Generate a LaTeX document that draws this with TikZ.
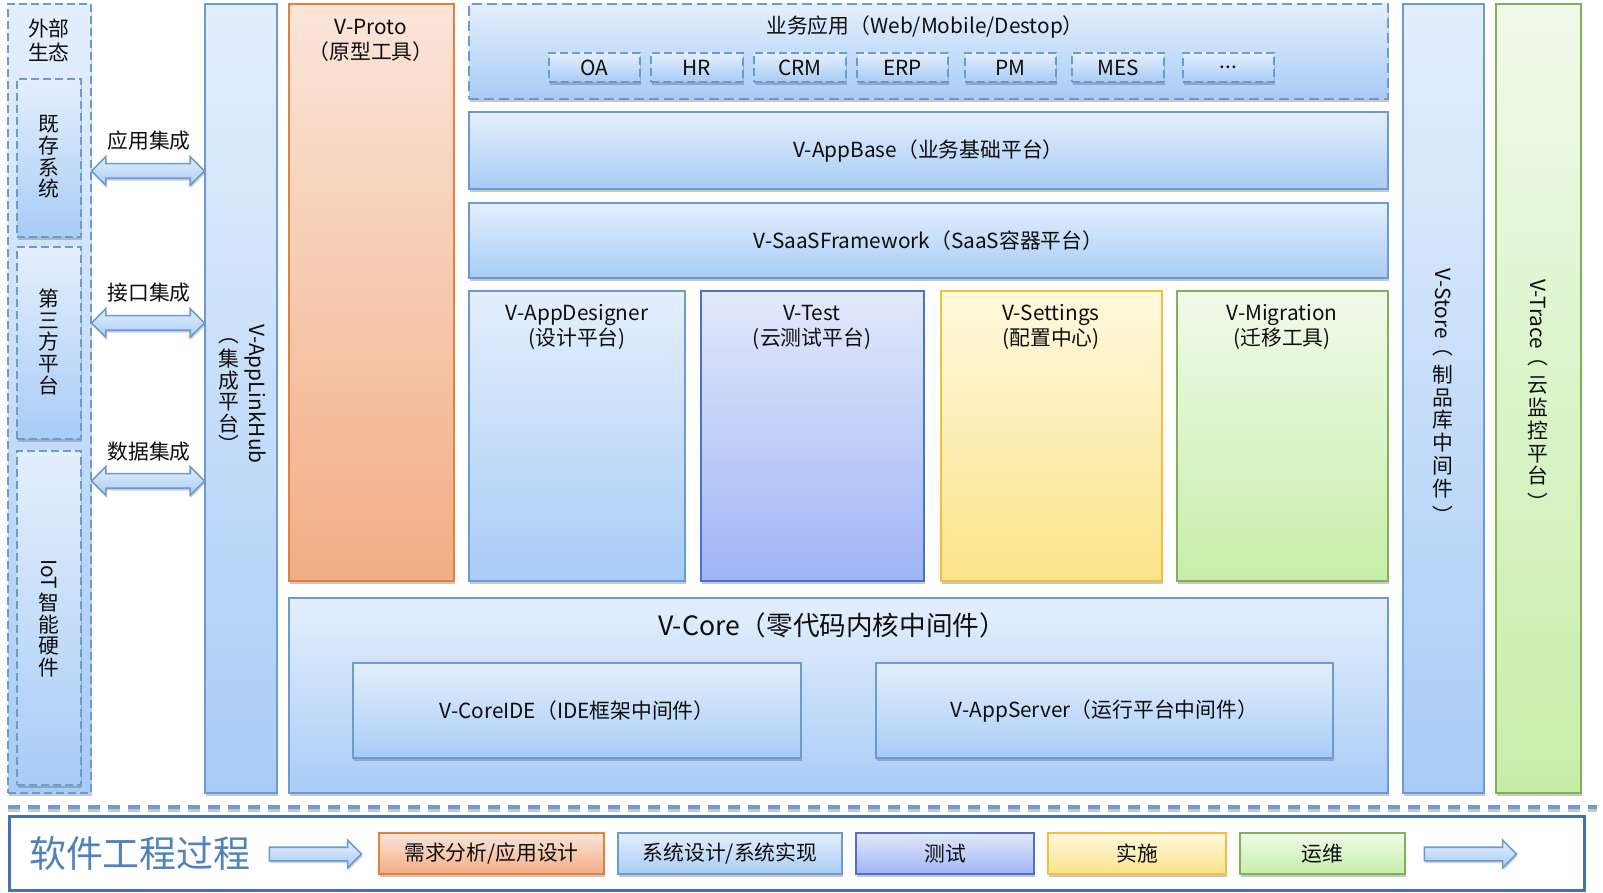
\documentclass[tikz,border=0pt]{standalone}
\usepackage{fontspec}
\setmainfont{Noto Sans CJK SC}
\usepackage{graphicx}
\usetikzlibrary{shadows,shapes.arrows}
\definecolor{txtc}{HTML}{0E0E0E}
\definecolor{lbT}{HTML}{E4EFFD}
\definecolor{lbB}{HTML}{A8CCF6}
\definecolor{lbD}{HTML}{6B9BD2}
\definecolor{orT}{HTML}{FBE5D9}
\definecolor{orB}{HTML}{F2AD84}
\definecolor{orD}{HTML}{E2803E}
\definecolor{puT}{HTML}{E2E9FC}
\definecolor{puB}{HTML}{9FB4F5}
\definecolor{puD}{HTML}{4A72C6}
\definecolor{yeT}{HTML}{FFF9DE}
\definecolor{yeB}{HTML}{FBE38A}
\definecolor{yeD}{HTML}{F4BE3E}
\definecolor{grT}{HTML}{F0FAEA}
\definecolor{grB}{HTML}{C6EEA8}
\definecolor{grD}{HTML}{80B057}
\definecolor{barD}{HTML}{4173B0}
\definecolor{ttl}{HTML}{4F81BD}
\newcommand\mkbox[7]{\node[#2, minimum width={(#5-#3)*0.5pt}, minimum height={(#6-#4)*0.5pt}] (#1) at ({(#3+#5)/2},{(#4+#6)/2}) {#7};}
\tikzset{
  base/.style={inner sep=0pt, outer sep=0pt, line width=1pt, align=center,
    font=\fontsize{10.4}{12.5}\selectfont, text=txtc,
    drop shadow={shadow xshift=0.6pt, shadow yshift=-1.4pt, opacity=0.3, fill=black!70}},
  bluebox/.style={base, draw=lbD, top color=lbT, bottom color=lbB},
  orbox/.style={base, draw=orD, top color=orT, bottom color=orB},
  pubox/.style={base, draw=puD, top color=puT, bottom color=puB},
  yebox/.style={base, draw=yeD, top color=yeT, bottom color=yeB},
  grbox/.style={base, draw=grD, top color=grT, bottom color=grB},
  dsh/.style={dash pattern=on 4pt off 2pt},
  txt/.style={inner sep=0pt, align=center, font=\fontsize{10.4}{12.5}\selectfont, text=txtc},
  vstack/.style={inner sep=0pt, align=center, font=\fontsize{10.4}{10.8}\selectfont, text=txtc},
  vstackw/.style={inner sep=0pt, align=center, font=\fontsize{10.4}{11.4}\selectfont, text=txtc},
  darrow/.style={double arrow, draw=lbD, line width=0.8pt, top color=lbT, bottom color=lbB,
    inner sep=0pt, outer sep=0pt, double arrow head extend=3.5pt,
    drop shadow={shadow xshift=0.5pt, shadow yshift=-1.2pt, opacity=0.25, fill=black!70}},
  sarrow/.style={single arrow, draw=lbD, line width=0.8pt, top color=lbT, bottom color=lbB,
    inner sep=0pt, outer sep=0pt, single arrow head extend=3.5pt,
    drop shadow={shadow xshift=0.5pt, shadow yshift=-1.2pt, opacity=0.25, fill=black!70}},
}
\newcommand\shaft[1]{\rule{0pt}{#1}}
\begin{document}
\begin{tikzpicture}[x=0.5pt,y=-0.5pt]
\useasboundingbox[fill=white] (0,0) rectangle (1603,893);
% external ecosystem
\mkbox{ext}{bluebox,dsh}{8}{4}{91}{793}{}
\node[txt, font=\fontsize{10.4}{12}\selectfont] (extt) at (49,40) {外部\\生态};
\mkbox{exa}{bluebox,dsh}{17}{79}{81}{237}{}
\mkbox{exb}{bluebox,dsh}{17}{247}{81}{439}{}
\mkbox{exc}{bluebox,dsh}{17}{451}{81}{785}{}
\node[vstack] (exat) at (49,157) {既\\存\\系\\统};
\node[vstack] (exbt) at (49,342) {第\\三\\方\\平\\台};
\node[vstack] (exct) at (49,618) {\rotatebox{-90}{IoT}\\[1pt]智\\能\\硬\\件};
% hub
\mkbox{hub}{bluebox}{205}{4}{277}{793}{}
\node[txt, rotate=-90] (hubt) at (255,394) {V-AppLinkHub};
\node[vstack] (hubs) at (229,396) {︵\\[1pt]集\\成\\平\\台\\︶};
% integration arrows
\node[darrow, minimum height=56.5pt] (ar1) at (148,171) {\shaft{6.5pt}};
\node[darrow, minimum height=56.5pt] (ar2) at (148,323) {\shaft{6.5pt}};
\node[darrow, minimum height=56.5pt] (ar3) at (148,481) {\shaft{6.5pt}};
\node[txt] (ar1t) at (149,141) {应用集成};
\node[txt] (ar2t) at (149,293) {接口集成};
\node[txt] (ar3t) at (149,452) {数据集成};
% proto
\mkbox{proto}{orbox}{289}{4}{454}{581}{}
\node[txt] (protot) at (371,40) {V-Proto\\（原型工具）};
% business apps
\mkbox{biz}{bluebox,dash pattern=on 5pt off 2.5pt}{469}{4}{1388}{99}{}
\node[txt] (bizt) at (925,27) {业务应用（Web/Mobile/Destop）};
\mkbox{oa}{bluebox,dsh}{549}{53}{640}{82}{OA}
\mkbox{hr}{bluebox,dsh}{651}{53}{743}{82}{HR}
\mkbox{crm}{bluebox,dsh}{754}{53}{846}{82}{CRM}
\mkbox{erp}{bluebox,dsh}{857}{53}{948}{82}{ERP}
\mkbox{pm}{bluebox,dsh}{965}{53}{1056}{82}{PM}
\mkbox{mes}{bluebox,dsh}{1072}{53}{1164}{82}{MES}
\mkbox{dots}{bluebox,dsh}{1183}{53}{1274}{82}{...}
\mkbox{appbase}{bluebox}{469}{112}{1388}{189}{V-AppBase（业务基础平台）}
\mkbox{saas}{bluebox}{469}{203}{1388}{278}{V-SaaSFramework（SaaS容器平台）}
% four columns
\mkbox{des}{bluebox}{469}{291}{685}{581}{}
\mkbox{tst}{pubox}{701}{291}{924}{581}{}
\mkbox{set}{yebox}{941}{291}{1162}{581}{}
\mkbox{mig}{grbox}{1177}{291}{1388}{581}{}
\node[txt] (dest) at (577,327) {V-AppDesigner\\(设计平台)};
\node[txt] (tstt) at (812,327) {V-Test\\(云测试平台)};
\node[txt] (sett) at (1051,327) {V-Settings\\(配置中心)};
\node[txt] (migt) at (1282,327) {V-Migration\\(迁移工具)};
% core
\mkbox{core}{bluebox}{289}{598}{1388}{793}{}
\node[txt, font=\fontsize{13.3}{15}\selectfont] (coret) at (832,625) {V-Core（零代码内核中间件）};
\mkbox{ide}{bluebox}{353}{663}{801}{758}{V-CoreIDE（IDE框架中间件）}
\mkbox{srv}{bluebox}{876}{663}{1333}{758}{V-AppServer（运行平台中间件）}
% store and trace
\mkbox{store}{bluebox}{1403}{4}{1484}{793}{}
\node[vstackw] (storet) at (1443,396) {\rotatebox{-90}{V-Store}\\[5pt]︵\\[2.5pt]制\\品\\库\\中\\间\\件\\[2pt]︶};
\mkbox{trace}{grbox}{1496}{4}{1581}{793}{}
\node[vstackw] (tracet) at (1538,395) {\rotatebox{-90}{V-Trace}\\[5pt]︵\\[2.5pt]云\\监\\控\\平\\台\\[2pt]︶};
% separator
\coordinate (sepL) at (8,807);
\coordinate (sepR) at (1597,807);
\draw[black!22, line width=2pt, dash pattern=on 6pt off 4pt] ([yshift=-1.5pt]sepL) -- ([yshift=-1.5pt]sepR);
\draw[lbD, line width=2pt, dash pattern=on 6pt off 4pt] (sepL) -- (sepR);
% process bar
\mkbox{bar}{draw=barD, line width=1.5pt, fill=white, inner sep=0pt, outer sep=0pt}{9}{816}{1584}{890}{}
\node[inner sep=0pt, text=ttl, font=\fontsize{18.5}{20}\selectfont] (bart) at (140,853) {软件工程过程};
\node[sarrow, minimum height=46pt] (pa1) at (312,854) {\shaft{6pt}};
\mkbox{s1}{orbox}{379}{833}{604}{874}{需求分析/应用设计}
\mkbox{s2}{bluebox}{618}{833}{842}{874}{系统设计/系统实现}
\mkbox{s3}{pubox}{856}{833}{1034}{874}{测试}
\mkbox{s4}{yebox}{1048}{833}{1226}{874}{实施}
\mkbox{s5}{grbox}{1240}{833}{1405}{874}{运维}
\node[sarrow, minimum height=46pt] (pa2) at (1467,854) {\shaft{6pt}};
\end{tikzpicture}
\end{document}
